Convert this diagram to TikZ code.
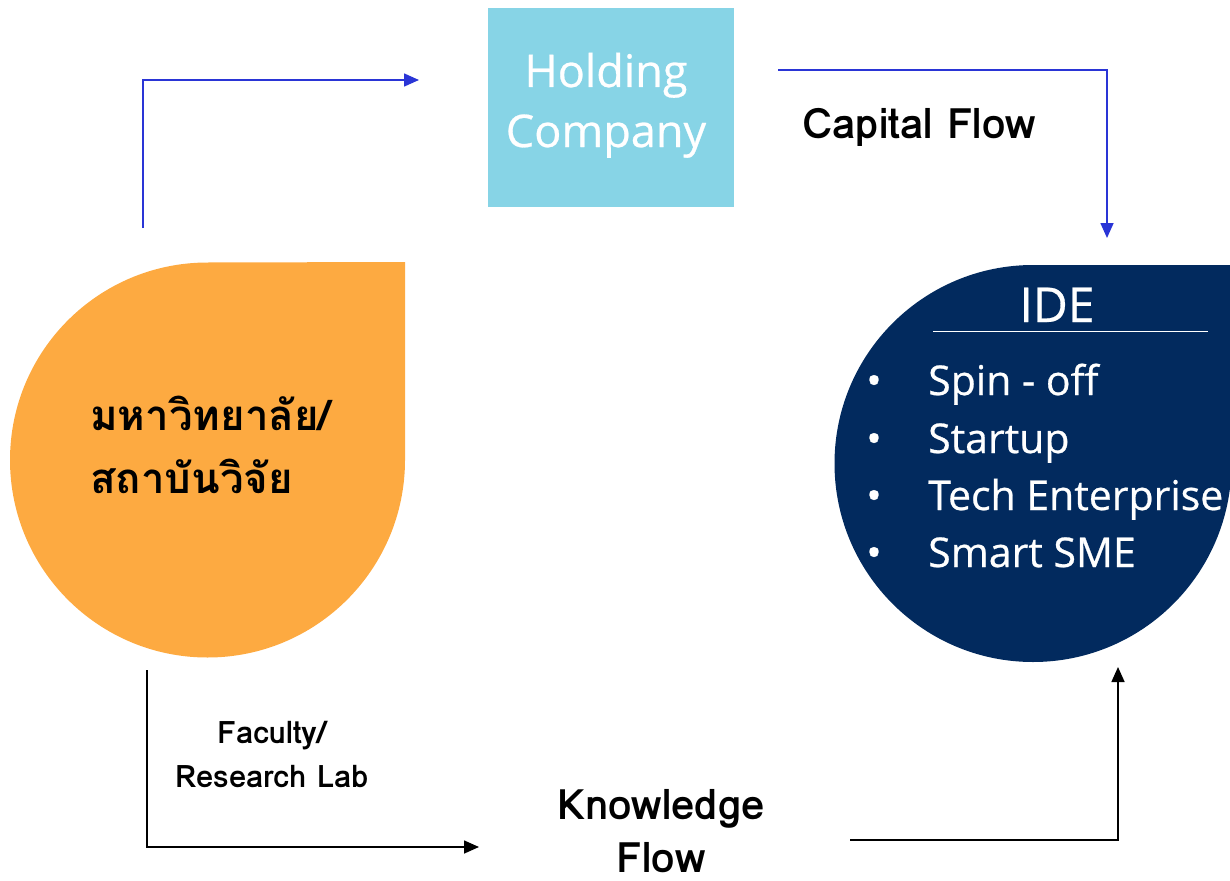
\documentclass[tikz,border=0pt]{standalone}
\usepackage{fontspec}
\usetikzlibrary{arrows.meta}
\newfontfamily\thaifont[Script=Thai]{Loma}
\newfontfamily\lblfont{Loma}
\newfontfamily\whitefont{Open Sans}
\newfontfamily\whitesemi[FakeBold=0.6]{Open Sans}
\definecolor{uniorange}{HTML}{FDAA41}
\definecolor{holdblue}{HTML}{87D4E6}
\definecolor{idenavy}{HTML}{022A5E}
\definecolor{flowblue}{HTML}{2A35D6}
\tikzset{
  bluearrow/.style={draw=flowblue,line width=1.6pt,-{Triangle[length=15pt,width=13pt]}},
  blackarrow/.style={draw=black,line width=1.6pt,-{Triangle[length=15pt,width=13pt]}},
  whitelbl/.style={text=white,inner sep=0pt,font=\whitesemi\fontsize{45}{54}\selectfont},
  listlbl/.style={text=white,inner sep=0pt,anchor=base west,font=\whitesemi\fontsize{41}{50}\selectfont},
  bulletlbl/.style={text=white,inner sep=0pt,anchor=base,font=\whitesemi\fontsize{41}{50}\selectfont},
  blacklbl/.style={text=black,inner sep=0pt,anchor=base,font=\lblfont\bfseries\fontsize{42}{50}\selectfont},
  smalllbl/.style={text=black,inner sep=0pt,anchor=base,font=\lblfont\bfseries\fontsize{31}{38}\selectfont},
  thailbl/.style={text=black,inner sep=0pt,anchor=base west,font=\thaifont\bfseries\fontsize{42}{52}\selectfont}
}
\begin{document}
\begin{tikzpicture}[x=1pt,y=-1pt]
\useasboundingbox (0,0) rectangle (1230,880);
\clip (0,0) rectangle (1230,880);
% university drop
\fill[uniorange] (405,262) -- (405,460) arc[start angle=0,end angle=270,radius=197.5] -- cycle;
\coordinate (uni) at (207.5,460);
% holding company box
\node[fill=holdblue,minimum width=246pt,minimum height=199pt,inner sep=0pt] (hold) at (611,107.5) {};
\node[whitelbl,anchor=base] (holdA) at (606,87) {Holding};
\node[whitelbl,anchor=base] (holdB) at (606,147) {Company};
% IDE drop
\fill[idenavy] (1231.5,265) -- (1231.5,463.5) arc[start angle=0,end angle=270,radius=198.5] -- cycle;
\node[text=white,inner sep=0pt,anchor=base,font=\whitesemi\fontsize{48}{58}\selectfont] (ide) at (1057,322) {IDE};
\coordinate (ruleL) at (933,331.5);
\coordinate (ruleR) at (1208,331.5);
\draw[white,line width=1.5pt] (ruleL) -- (ruleR);
\node[bulletlbl] (b1) at (874,395) {•};
\node[bulletlbl] (b2) at (874,453) {•};
\node[bulletlbl] (b3) at (874,510) {•};
\node[bulletlbl] (b4) at (874,567) {•};
\node[listlbl] (l1) at (928,395) {Spin - off};
\node[listlbl] (l2) at (928,453) {Startup};
\node[listlbl] (l3) at (928,510) {Tech Enterprise};
\node[listlbl] (l4) at (928,567) {Smart SME};
% Thai label
\node[thailbl] (th1) at (90,430) {มหาวิทยาลัย/};
\node[thailbl] (th2) at (90,493) {สถาบันวิจัย};
% labels
\node[blacklbl] (cap) at (919,138) {Capital Flow};
\node[blacklbl] (know1) at (661,819) {Knowledge};
\node[blacklbl] (know2) at (661,872) {Flow};
\node[smalllbl] (fac1) at (272,743) {Faculty/};
\node[smalllbl] (fac2) at (272,787) {Research Lab};
% connector end points
\coordinate (c1s) at (143,228);
\coordinate (c1e) at (419,80);
\coordinate (c2s) at (778,70);
\coordinate (c2e) at (1107,238);
\coordinate (c3s) at (147,670);
\coordinate (c3e) at (479,847);
\coordinate (c4s) at (850,840);
\coordinate (c4e) at (1118,667);
\draw[bluearrow] (c1s) |- (c1e);
\draw[bluearrow] (c2s) -| (c2e);
\draw[blackarrow] (c3s) |- (c3e);
\draw[blackarrow] (c4s) -| (c4e);
\end{tikzpicture}
\end{document}
